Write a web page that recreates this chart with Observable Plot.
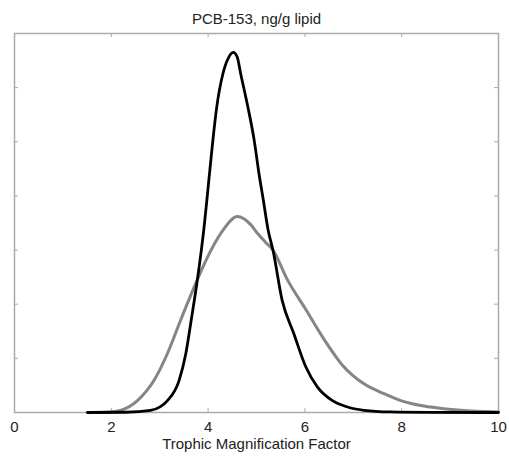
<!DOCTYPE html>
<html>
<head>
<meta charset="utf-8">
<script src="https://cdn.jsdelivr.net/npm/d3@7"></script>
<script src="https://cdn.jsdelivr.net/npm/@observablehq/plot@0.6"></script>
<style>
  html, body { margin: 0; padding: 0; background: #fff; }
  #chart svg { display: block; }
</style>
</head>
<body>
<div id="chart"></div>
<script>
// ---- data ----
const title = "PCB-153, ng/g lipid";
const xLabel = "Trophic Magnification Factor";
const xTicks = [0, 2, 4, 6, 8, 10];
const innerXTicks = [2, 4, 6, 8];
const yTicks = [0.1, 0.2, 0.3, 0.4, 0.5, 0.6];

// black (narrow) density curve
const blackX = [1.51, 2.3, 2.81, 3.16, 3.40, 3.54, 3.65, 3.78, 3.91, 4.03, 4.10, 4.18, 4.31, 4.42, 4.52, 4.60, 4.67, 4.82, 4.95, 5.05, 5.14, 5.24, 5.34, 5.53, 5.77, 6.02, 6.26, 6.57, 6.85, 7.22, 7.77, 8.5, 10];
const blackY = [0, 0.0005, 0.004, 0.022, 0.059, 0.109, 0.170, 0.246, 0.337, 0.442, 0.504, 0.565, 0.627, 0.655, 0.665, 0.657, 0.627, 0.565, 0.504, 0.442, 0.393, 0.337, 0.300, 0.207, 0.146, 0.084, 0.047, 0.022, 0.011, 0.004, 0.001, 0.0003, 0];

// gray (wide) density curve
const grayX = [1.5, 1.9, 2.19, 2.54, 2.88, 3.16, 3.43, 3.78, 4.05, 4.22, 4.35, 4.47, 4.60, 4.74, 4.88, 5.02, 5.18, 5.34, 5.64, 6.00, 6.39, 6.78, 7.22, 7.63, 7.98, 8.60, 9.22, 9.99];
const grayY = [0, 0.0005, 0.004, 0.022, 0.059, 0.109, 0.170, 0.246, 0.298, 0.325, 0.342, 0.355, 0.362, 0.358, 0.347, 0.331, 0.315, 0.300, 0.245, 0.193, 0.136, 0.087, 0.053, 0.035, 0.022, 0.010, 0.004, 0.001];

const black = blackX.map((x, i) => ({x, y: blackY[i]}));
const gray = grayX.map((x, i) => ({x, y: grayY[i]}));

// ---- layout ----
const W = 509, H = 461;
const mTop = 33, mBottom = 49, mLeft = 14, mRight = 11;
const frameH = H - mTop - mBottom;
const frameW = W - mLeft - mRight;
const tickLen = 4;
const font = "'Liberation Sans', Arial, Helvetica, sans-serif";
const textColor = "#222";
const frameColor = "#aaaaaa";

const chart = Plot.plot({
  width: W,
  height: H,
  marginTop: mTop,
  marginBottom: mBottom,
  marginLeft: mLeft,
  marginRight: mRight,
  style: {fontFamily: font, background: "#fff", color: textColor},
  x: {domain: [0, 10]},
  y: {domain: [0, 0.7], axis: null},
  marks: [
    Plot.frame({stroke: frameColor, strokeWidth: 1.5}),
    // inner ticks
    Plot.ruleX(innerXTicks, {stroke: frameColor, strokeWidth: 1, insetTop: frameH - tickLen}),
    Plot.ruleX(innerXTicks, {stroke: frameColor, strokeWidth: 1, insetBottom: frameH - tickLen}),
    Plot.ruleY(yTicks, {stroke: frameColor, strokeWidth: 1, insetRight: frameW - tickLen}),
    Plot.ruleY(yTicks, {stroke: frameColor, strokeWidth: 1, insetLeft: frameW - tickLen}),
    Plot.axisX({ticks: xTicks, tickSize: 0, tickPadding: 9, fontSize: 15, label: null, tickFormat: d => String(d), fill: textColor}),
    Plot.line(gray, {x: "x", y: "y", stroke: "#858585", strokeWidth: 3, curve: "monotone-x"}),
    Plot.line(black, {x: "x", y: "y", stroke: "#000", strokeWidth: 2.8, curve: "monotone-x"}),
    Plot.text([xLabel], {frameAnchor: "bottom", dy: 26, lineAnchor: "top", text: d => d, fontSize: 15, fill: textColor}),
    Plot.text([title], {frameAnchor: "top", dy: -14, lineAnchor: "middle", text: d => d, fontSize: 15, fill: textColor})
  ]
});
document.getElementById("chart").appendChild(chart);
</script>
</body>
</html>
